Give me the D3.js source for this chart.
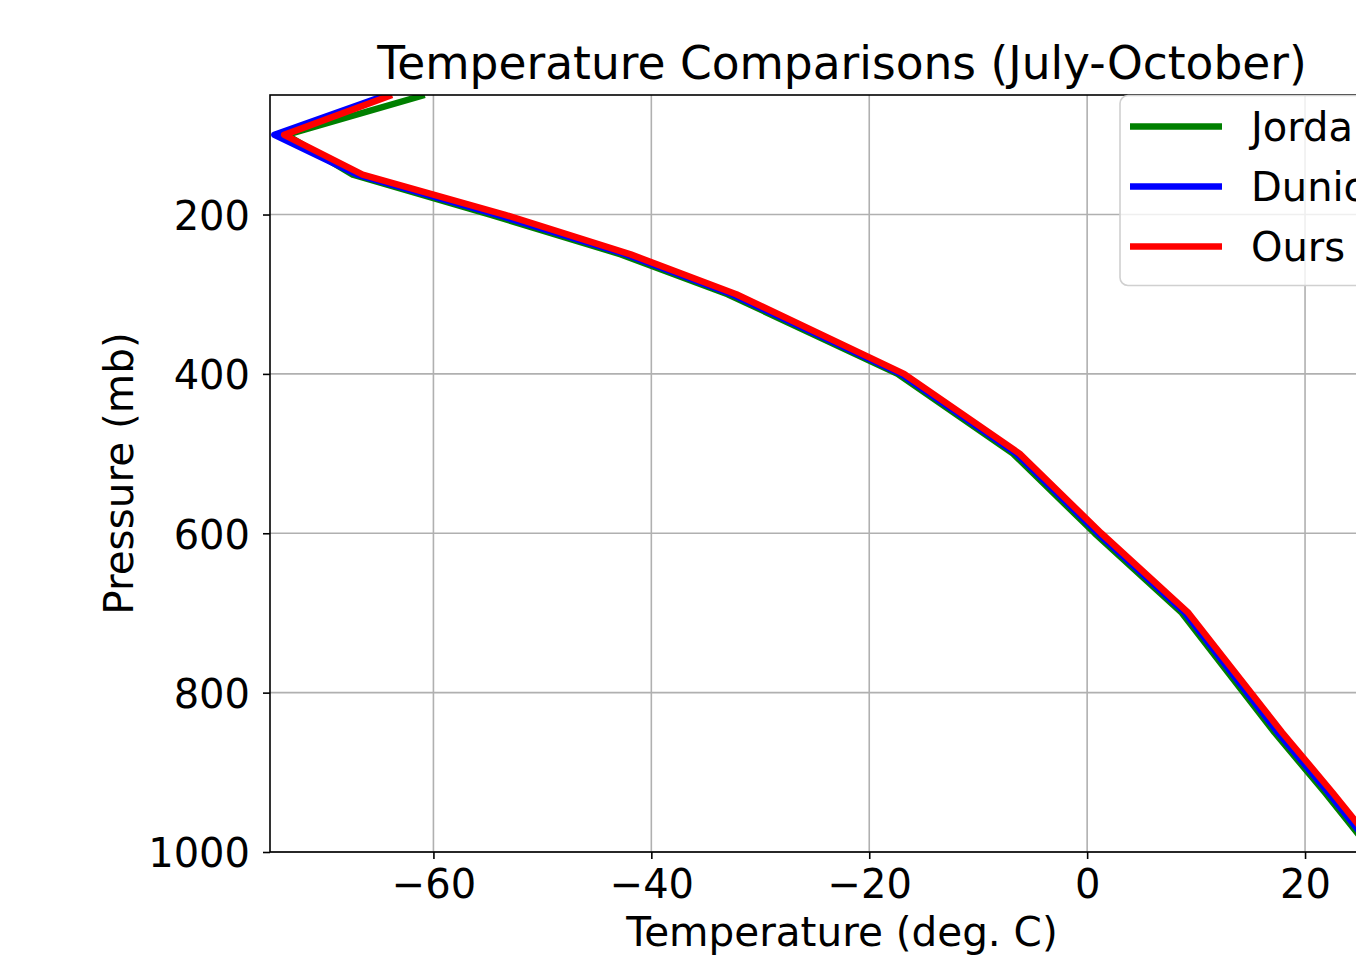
<!DOCTYPE html>
<html>
<head>
<meta charset="utf-8">
<script src="https://cdn.jsdelivr.net/npm/d3@7"></script>
<style>
  body { margin: 0; background: #fff; }
  svg { display: block; font-family: "DejaVu Sans", sans-serif; }
</style>
</head>
<body>
<div id="chart"></div>
<script>
// Data
var pressure = [50, 100, 150, 200, 250, 300, 400, 500, 600, 700, 850, 925, 1000];
var jordanTemp = [-60.8, -73.5, -67.4, -54.8, -42.8, -33.0, -17.4, -6.8, 0.7, 8.7, 17.2, 21.8, 26.2];
var dunionTemp = [-64.3, -74.6, -67.0, -54.2, -42.3, -32.6, -17.1, -6.5, 1.0, 9.0, 17.5, 22.1, 26.5];
var oursTemp = [-63.8, -73.7, -66.5, -53.5, -41.9, -32.2, -16.8, -6.2, 1.3, 9.3, 17.9, 22.5, 26.9];
var seriesNames = ["Jordan", "Dunion", "Ours"];
var seriesColors = ["#008000", "#0000ff", "#ff0000"];
var xTicks = [-60, -40, -20, 0, 20];
var xTickLabels = ["\u221260", "\u221240", "\u221220", "0", "20"];
var yTicks = [200, 400, 600, 800, 1000];
var yTickLabels = ["200", "400", "600", "800", "1000"];

// Set up chart area
var svgWidth = 1356;
var svgHeight = 957;
var margin = { top: 95, left: 270 };
var width = 1144;
var height = 757;

var svg = d3.select("#chart")
    .append("svg")
        .attr("width", svgWidth)
        .attr("height", svgHeight);

var g = svg.append("g")
    .attr("transform", `translate(${margin.left}, ${margin.top})`);

// Scales (pressure axis runs downward)
var xScale = d3.scaleLinear().domain([-75, 30]).range([0, width]);
var yScale = d3.scaleLinear().domain([50, 1000]).range([0, height]);

// Grid lines
g.append("g").selectAll("line")
    .data(xTicks)
    .enter().append("line")
        .attr("x1", d => xScale(d)).attr("x2", d => xScale(d))
        .attr("y1", 0).attr("y2", height)
        .attr("stroke", "#b0b0b0").attr("stroke-width", 1.6);
g.append("g").selectAll("line")
    .data(yTicks)
    .enter().append("line")
        .attr("x1", 0).attr("x2", width)
        .attr("y1", d => yScale(d)).attr("y2", d => yScale(d))
        .attr("stroke", "#b0b0b0").attr("stroke-width", 1.6);

// Clip lines to the plot box
svg.append("defs").append("clipPath")
    .attr("id", "plotClip")
    .append("rect")
        .attr("width", width)
        .attr("height", height);

var series = [jordanTemp, dunionTemp, oursTemp];
var line = d3.line()
    .x(d => xScale(d[0]))
    .y(d => yScale(d[1]));

g.append("g")
    .attr("clip-path", "url(#plotClip)")
    .selectAll("path")
    .data(series)
    .enter().append("path")
        .attr("d", d => line(d.map((t, i) => [t, pressure[i]])))
        .attr("fill", "none")
        .attr("stroke", (d, i) => seriesColors[i])
        .attr("stroke-width", 6.5)
        .attr("stroke-linejoin", "round");

// Axes
var xAxis = g.append("g")
    .attr("transform", "translate(0," + height + ")")
    .call(d3.axisBottom(xScale)
        .tickValues(xTicks)
        .tickFormat((d, i) => xTickLabels[i])
        .tickSize(7)
        .tickPadding(11));

var yAxis = g.append("g")
    .call(d3.axisLeft(yScale)
        .tickValues(yTicks)
        .tickFormat((d, i) => yTickLabels[i])
        .tickSize(7)
        .tickPadding(13));

[xAxis, yAxis].forEach(function(ax) {
    ax.select(".domain").remove();
    ax.selectAll(".tick line").attr("stroke", "#000").attr("stroke-width", 1.6);
    ax.selectAll(".tick text")
        .attr("fill", "#000")
        .style("font-size", "40px")
        .style("font-family", "DejaVu Sans");
});
yAxis.selectAll(".tick text").attr("dy", "0.37em");

// Plot frame
g.append("rect")
    .attr("width", width)
    .attr("height", height)
    .attr("fill", "none")
    .attr("stroke", "#000")
    .attr("stroke-width", 1.6);

// Title and axis labels
svg.append("text")
    .attr("x", margin.left + width / 2)
    .attr("y", 79)
    .attr("text-anchor", "middle")
    .style("font-size", "45.5px")
    .text("Temperature Comparisons (July-October)");

svg.append("text")
    .attr("x", margin.left + width / 2)
    .attr("y", 946)
    .attr("text-anchor", "middle")
    .style("font-size", "40.5px")
    .text("Temperature (deg. C)");

svg.append("text")
    .attr("transform", "translate(133," + (margin.top + height / 2) + ") rotate(-90)")
    .attr("text-anchor", "middle")
    .style("font-size", "40.5px")
    .text("Pressure (mb)");

// Legend (runs off the right edge, as in the source figure)
var legend = svg.append("g")
    .attr("transform", "translate(1120, 95.5)");

legend.append("rect")
    .attr("width", 294)
    .attr("height", 190)
    .attr("rx", 8)
    .attr("fill", "#fff")
    .attr("fill-opacity", 0.8)
    .attr("stroke", "#d0d0d0")
    .attr("stroke-width", 1.6);

var items = legend.selectAll("g.item")
    .data(seriesNames)
    .enter().append("g")
        .attr("class", "item")
        .attr("transform", (d, i) => "translate(0," + (31 + i * 60) + ")");

items.append("line")
    .attr("x1", 10).attr("x2", 102)
    .attr("stroke", (d, i) => seriesColors[i])
    .attr("stroke-width", 6.5);

items.append("text")
    .attr("x", 131)
    .attr("y", 14.5)
    .style("font-size", "40px")
    .text(d => d);
</script>
</body>
</html>
